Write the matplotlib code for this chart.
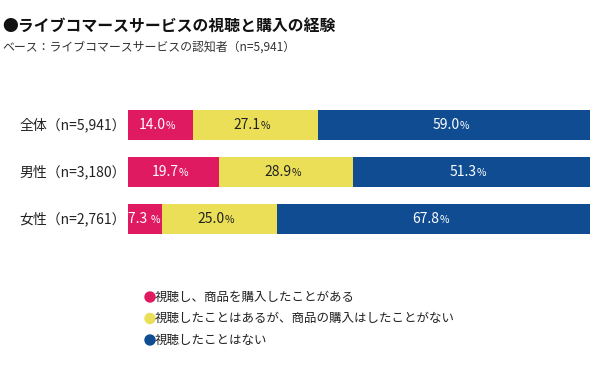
import matplotlib.pyplot as plt
from matplotlib.patches import Circle

plt.rcParams['font.family'] = ['Noto Sans CJK JP', 'DejaVu Sans']

groups = ['全体（n=5,941）', '男性（n=3,180）', '女性（n=2,761）']
bought = [14.0, 19.7, 7.3]
watched_only = [27.1, 28.9, 25.0]
never = [59.0, 51.3, 67.8]
series_names = ['視聴し、商品を購入したことがある',
                '視聴したことはあるが、商品の購入はしたことがない',
                '視聴したことはない']
colors = ['#E01A60', '#EBDF57', '#0F4C92']
text_colors = ['white', '#222222', 'white']

fig = plt.figure(figsize=(6, 3.65), dpi=100)
ax = fig.add_axes([128 / 600, 1 - 244 / 365, 462 / 600, 144 / 365])

series = [bought, watched_only, never]
ypos = list(range(len(groups)))
left = [0.0] * len(groups)
for vals, c, tc in zip(series, colors, text_colors):
    ax.barh(ypos, vals, left=left, height=30 / 47, color=c, edgecolor='none')
    for y, l, v in zip(ypos, left, vals):
        cx = l + v / 2
        num = f'{v:.1f}' + (' ' if v < 10 else '')
        ax.annotate(num, (cx, y), xytext=(4, 0), textcoords='offset points',
                    ha='right', va='center', color=tc, fontsize=10)
        ax.annotate('%', (cx, y), xytext=(4, -0.8), textcoords='offset points',
                    ha='left', va='center', color=tc, fontsize=7.5)
    left = [a + b for a, b in zip(left, vals)]

ax.set_xlim(0, 100)
ax.set_ylim(2 + 25 / 47, -25 / 47)
ax.axis('off')

for y, g in zip(ypos, groups):
    ax.annotate(g, (0, y), xytext=(-1.5, 0), textcoords='offset points',
                ha='right', va='center', fontsize=10, color='#222222')

fig.text(2 / 600, 1 - 27 / 365, '●ライブコマースサービスの視聴と購入の経験',
         fontsize=11.4, fontweight='bold', va='center', ha='left', color='#111111')
fig.text(2 / 600, 1 - 47 / 365, 'ベース：ライブコマースサービスの認知者（n=5,941）',
         fontsize=8.6, va='center', ha='left', color='#333333')

for i, (name, c) in enumerate(zip(series_names, colors)):
    yp = 1 - (297 + 21.5 * i) / 365
    fig.patches.append(Circle((150, yp * 365), 5, color=c,
                              transform=None, figure=fig))
    fig.text(155 / 600, yp, name, fontsize=9, va='center', ha='left', color='#222222')

fig.savefig('out.png', dpi=100)
